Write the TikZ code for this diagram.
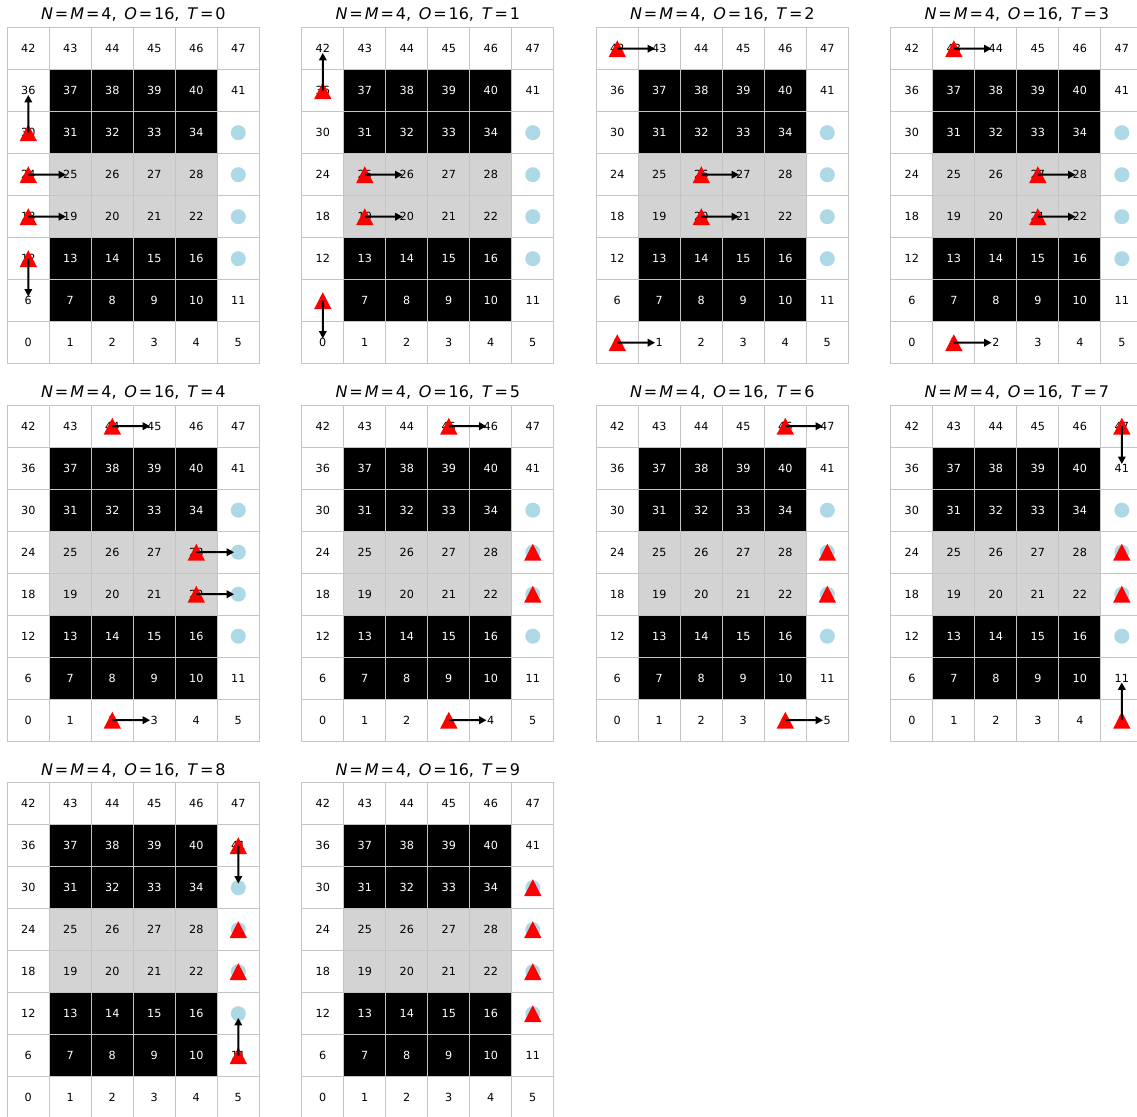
\documentclass[tikz,border=0pt]{standalone}
\usepackage{fontspec}
\setmainfont{DejaVu Sans}
\usetikzlibrary{calc,arrows.meta}
\definecolor{lblue}{RGB}{173,216,230}
\definecolor{lgray}{RGB}{211,211,211}
\definecolor{edgec}{RGB}{196,196,196}
\tikzset{
  cellbox/.style={draw=edgec, line width=1.3pt, minimum size=42pt, inner sep=0pt, font=\fontsize{11.2}{13}\selectfont},
  ttl/.style={anchor=base, inner sep=0pt, font=\fontsize{16}{19}\selectfont},
  agent/.style={fill=red},
  goalspot/.style={fill=lblue},
  mv/.style={-{Triangle[length=7.5pt,width=7.5pt]}, line width=2pt, black},
}
\newcommand\eqs{\hspace{0.12em}=\hspace{0.12em}}
\newcommand\gridpanel[5]{%
  \node[ttl] (#1t) at ({#2+126},{#3-7.7}) {\textit{N}\eqs\textit{M}\eqs4,\hspace{0.48em}\textit{O}\eqs16,\hspace{0.48em}\textit{T}\eqs#4};
  \foreach \j in {0,...,7}{
    \foreach \i in {0,...,5}{
      \pgfmathtruncatemacro\n{6*\j+\i}
      \pgfmathtruncatemacro\inr{and(\i>0,\i<5)}
      \pgfmathtruncatemacro\blk{and(\inr,or(or(\j==1,\j==2),or(\j==5,\j==6)))}
      \pgfmathtruncatemacro\gry{and(\inr,or(\j==3,\j==4))}
      \pgfmathtruncatemacro\hid{and(\i==5,and(\j>1,\j<6))}
      \ifnum\blk=1 \def\cf{black}\def\tc{white}\else
        \ifnum\gry=1 \def\cf{lgray}\def\tc{black}\else\def\cf{white}\def\tc{black}\fi\fi
      \ifnum\hid=1 \def\lab{}\else\edef\lab{\n}\fi
      \node[cellbox, fill=\cf, text=\tc] (#1c\n) at ({#2+42*\i+21},{#3+42*(7-\j)+21}) {\lab};
    }
  }
  \foreach \k in {17,23,29,35} \fill[goalspot] (#1c\k.center) circle[radius=7.5pt];
  \foreach \k in {#5} \fill[agent] ($(#1c\k.center)+(-8.7,8.5)$) -- ++(17.4,0) -- ++(-8.7,-17) -- cycle;
}
\newcommand\moves[2]{%
  \foreach \src/\dst in {#2} \draw[mv] (#1c\src.center) -- ($(#1c\src.center)!0.9!(#1c\dst.center)$);
}
\begin{document}
\begin{tikzpicture}[x=1pt,y=-1pt]
\useasboundingbox (0,0) rectangle (1137,1116);
\clip (0,0) rectangle (1137,1116);
\fill[white] (0,0) rectangle (1137,1116);
\gridpanel{pa}{7.3}{27.7}{0}{30,24,18,12}
\moves{pa}{30/36,24/25,18/19,12/6}
\gridpanel{pb}{301.8}{27.7}{1}{36,25,19,6}
\moves{pb}{36/42,25/26,19/20,6/0}
\gridpanel{pc}{596.3}{27.7}{2}{42,26,20,0}
\moves{pc}{42/43,26/27,20/21,0/1}
\gridpanel{pd}{890.8}{27.7}{3}{43,27,21,1}
\moves{pd}{43/44,27/28,21/22,1/2}
\gridpanel{pe}{7.3}{405.2}{4}{44,28,22,2}
\moves{pe}{44/45,28/29,22/23,2/3}
\gridpanel{pf}{301.8}{405.2}{5}{45,29,23,3}
\moves{pf}{45/46,3/4}
\gridpanel{pg}{596.3}{405.2}{6}{46,29,23,4}
\moves{pg}{46/47,4/5}
\gridpanel{ph}{890.8}{405.2}{7}{47,29,23,5}
\moves{ph}{47/41,5/11}
\gridpanel{pi}{7.3}{782.7}{8}{41,29,23,11}
\moves{pi}{41/35,11/17}
\gridpanel{pj}{301.8}{782.7}{9}{35,29,23,17}
\end{tikzpicture}
\end{document}
